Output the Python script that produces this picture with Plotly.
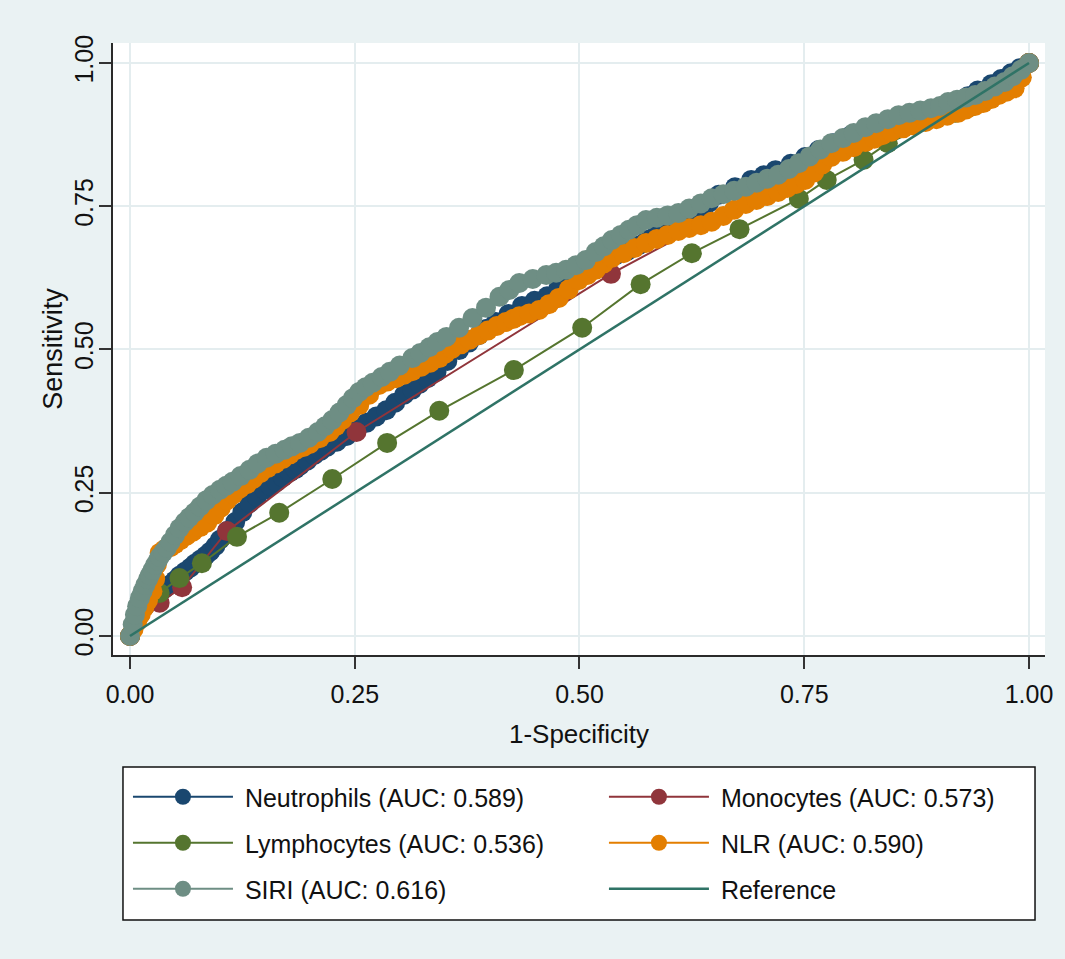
import plotly.graph_objects as go

# ---------------- data ----------------
neut_fpr = [0, 0.005, 0.011, 0.016, 0.022, 0.027, 0.033, 0.038, 0.044, 0.050,
            0.055, 0.061, 0.067, 0.072, 0.078, 0.084, 0.089, 0.095, 0.100, 0.108,
            0.117, 0.125, 0.133, 0.141, 0.150, 0.156, 0.163, 0.170, 0.178, 0.184,
            0.189, 0.197, 0.205, 0.212, 0.219, 0.230, 0.241, 0.252, 0.263, 0.274,
            0.285, 0.295, 0.305, 0.314, 0.322, 0.331, 0.341, 0.353, 0.366, 0.377,
            0.388, 0.397, 0.407, 0.421, 0.436, 0.450, 0.464, 0.476, 0.488, 0.500,
            0.511, 0.526, 0.541, 0.554, 0.566, 0.575, 0.585, 0.597, 0.610, 0.621,
            0.633, 0.644, 0.655, 0.673, 0.691, 0.705, 0.718, 0.735, 0.751, 0.766,
            0.782, 0.801, 0.821, 0.838, 0.855, 0.871, 0.888, 0.904, 0.921, 0.932,
            0.943, 0.958, 0.969, 0.980, 0.990, 1.0]
neut_sens = [0, 0.020, 0.037, 0.051, 0.063, 0.069, 0.075, 0.082, 0.089, 0.097,
             0.105, 0.112, 0.119, 0.126, 0.133, 0.140, 0.147, 0.157, 0.168, 0.183,
             0.199, 0.216, 0.232, 0.243, 0.255, 0.262, 0.269, 0.277, 0.286, 0.291,
             0.297, 0.306, 0.316, 0.323, 0.330, 0.339, 0.349, 0.360, 0.372, 0.383,
             0.394, 0.407, 0.421, 0.430, 0.440, 0.450, 0.461, 0.480, 0.499, 0.512,
             0.525, 0.536, 0.548, 0.562, 0.576, 0.585, 0.593, 0.605, 0.618, 0.630,
             0.642, 0.653, 0.665, 0.673, 0.682, 0.691, 0.700, 0.708, 0.717, 0.730,
             0.743, 0.756, 0.770, 0.783, 0.796, 0.804, 0.813, 0.824, 0.836, 0.848,
             0.860, 0.873, 0.884, 0.895, 0.903, 0.905, 0.913, 0.922, 0.934, 0.942,
             0.952, 0.963, 0.972, 0.982, 0.991, 1.0]

mono_fpr = [0, 0.033, 0.058, 0.108, 0.252, 0.535, 0.705, 0.855, 1.0]
mono_sens = [0, 0.058, 0.085, 0.183, 0.356, 0.632, 0.775, 0.897, 1.0]

lymph_fpr = [0, 0.033, 0.055, 0.080, 0.119, 0.166, 0.225, 0.286, 0.344, 0.427,
             0.503, 0.568, 0.625, 0.678, 0.744, 0.775, 0.816, 0.843, 0.918, 0.934,
             0.966, 1.0]
lymph_sens = [0, 0.075, 0.101, 0.127, 0.173, 0.215, 0.274, 0.337, 0.393, 0.464,
              0.538, 0.614, 0.668, 0.710, 0.763, 0.796, 0.831, 0.860, 0.913, 0.923,
              0.948, 1.0]

nlr_fpr = [0, 0.004, 0.008, 0.012, 0.016, 0.020, 0.025, 0.028, 0.030, 0.033,
           0.038, 0.045, 0.050, 0.056, 0.063, 0.070, 0.078, 0.086, 0.094, 0.101,
           0.108, 0.115, 0.122, 0.130, 0.137, 0.145, 0.153, 0.162, 0.170, 0.178,
           0.185, 0.193, 0.200, 0.211, 0.222, 0.229, 0.236, 0.245, 0.255, 0.266,
           0.277, 0.286, 0.296, 0.305, 0.314, 0.324, 0.334, 0.344, 0.351, 0.358,
           0.368, 0.378, 0.388, 0.398, 0.408, 0.418, 0.426, 0.433, 0.444, 0.455,
           0.466, 0.477, 0.488, 0.499, 0.509, 0.518, 0.527, 0.536, 0.549, 0.561,
           0.574, 0.586, 0.598, 0.610, 0.622, 0.635, 0.647, 0.660, 0.672, 0.685,
           0.697, 0.709, 0.721, 0.731, 0.741, 0.751, 0.761, 0.770, 0.780, 0.793,
           0.805, 0.818, 0.828, 0.837, 0.847, 0.860, 0.872, 0.885, 0.897, 0.909,
           0.921, 0.930, 0.940, 0.949, 0.958, 0.966, 0.975, 0.984, 0.992, 1.0]
nlr_sens = [0, 0.012, 0.025, 0.038, 0.050, 0.062, 0.078, 0.100, 0.125, 0.145,
            0.151, 0.155, 0.160, 0.167, 0.175, 0.182, 0.190, 0.198, 0.211, 0.224,
            0.237, 0.247, 0.257, 0.265, 0.274, 0.284, 0.293, 0.301, 0.309, 0.317,
            0.325, 0.330, 0.335, 0.345, 0.356, 0.366, 0.377, 0.390, 0.403, 0.421,
            0.438, 0.444, 0.450, 0.456, 0.462, 0.470, 0.477, 0.485, 0.493, 0.501,
            0.509, 0.517, 0.525, 0.533, 0.541, 0.548, 0.553, 0.558, 0.563, 0.569,
            0.579, 0.590, 0.605, 0.621, 0.630, 0.639, 0.650, 0.660, 0.668, 0.677,
            0.686, 0.693, 0.700, 0.707, 0.712, 0.717, 0.723, 0.733, 0.744, 0.754,
            0.761, 0.768, 0.775, 0.782, 0.789, 0.796, 0.809, 0.823, 0.836, 0.845,
            0.853, 0.862, 0.868, 0.874, 0.880, 0.886, 0.891, 0.897, 0.902, 0.908,
            0.913, 0.919, 0.925, 0.930, 0.937, 0.944, 0.950, 0.956, 0.975, 1.0]

siri_fpr = [0, 0.003, 0.0055, 0.008, 0.011, 0.014, 0.017, 0.020, 0.022, 0.025,
            0.028, 0.031, 0.033, 0.037, 0.041, 0.045, 0.050, 0.055, 0.061, 0.066,
            0.072, 0.078, 0.085, 0.092, 0.100, 0.107, 0.114, 0.123, 0.133, 0.142,
            0.152, 0.162, 0.172, 0.180, 0.189, 0.199, 0.209, 0.217, 0.225, 0.233,
            0.241, 0.248, 0.255, 0.262, 0.270, 0.280, 0.289, 0.300, 0.314, 0.323,
            0.333, 0.342, 0.352, 0.366, 0.381, 0.396, 0.411, 0.422, 0.433, 0.448,
            0.463, 0.474, 0.485, 0.496, 0.507, 0.518, 0.527, 0.536, 0.546, 0.555,
            0.564, 0.574, 0.586, 0.598, 0.610, 0.622, 0.635, 0.647, 0.660, 0.672,
            0.685, 0.697, 0.709, 0.721, 0.733, 0.744, 0.756, 0.768, 0.780, 0.793,
            0.805, 0.818, 0.830, 0.843, 0.855, 0.867, 0.879, 0.891, 0.901, 0.910,
            0.920, 0.930, 0.940, 0.951, 0.962, 0.973, 0.982, 0.991, 1.0]
siri_sens = [0, 0.020, 0.037, 0.052, 0.066, 0.078, 0.089, 0.099, 0.106, 0.115,
             0.124, 0.132, 0.138, 0.146, 0.154, 0.164, 0.176, 0.188, 0.199, 0.207,
             0.216, 0.226, 0.237, 0.246, 0.255, 0.262, 0.269, 0.279, 0.290, 0.301,
             0.311, 0.318, 0.325, 0.331, 0.337, 0.346, 0.356, 0.366, 0.377, 0.390,
             0.403, 0.415, 0.426, 0.434, 0.442, 0.452, 0.461, 0.472, 0.485, 0.494,
             0.504, 0.513, 0.522, 0.538, 0.555, 0.573, 0.592, 0.604, 0.616, 0.623,
             0.630, 0.634, 0.639, 0.647, 0.656, 0.670, 0.680, 0.691, 0.700, 0.709,
             0.717, 0.726, 0.730, 0.734, 0.738, 0.746, 0.755, 0.764, 0.771, 0.777,
             0.784, 0.791, 0.798, 0.805, 0.815, 0.825, 0.837, 0.849, 0.860, 0.869,
             0.878, 0.888, 0.895, 0.902, 0.909, 0.913, 0.917, 0.921, 0.925, 0.932,
             0.936, 0.940, 0.944, 0.951, 0.959, 0.967, 0.977, 0.988, 1.0]

ref_fpr = [0, 1]
ref_sens = [0, 1]

tick_vals = [0, 0.25, 0.5, 0.75, 1.0]
tick_text = ["0.00", "0.25", "0.50", "0.75", "1.00"]

labels = ["Neutrophils (AUC: 0.589)", "Monocytes (AUC: 0.573)",
          "Lymphocytes (AUC: 0.536)", "NLR (AUC: 0.590)",
          "SIRI (AUC: 0.616)", "Reference"]

# ---------------- styling ----------------
FONT = "Liberation Sans, Arial, sans-serif"
BG = "#EAF2F3"
GRID = "#E4EDEF"
TXT = "#111111"
colors = ["#1A476F", "#90353B", "#55752F", "#E37E00", "#6E8E84", "#2F7366"]
legend_of = ["legend", "legend2", "legend", "legend2", "legend", "legend2"]
NB = "\u00a0"

fig = go.Figure()
data = [(neut_fpr, neut_sens), (mono_fpr, mono_sens), (lymph_fpr, lymph_sens),
        (nlr_fpr, nlr_sens), (siri_fpr, siri_sens)]
for i, (xs, ys) in enumerate(data):
    fig.add_trace(go.Scatter(
        x=xs, y=ys, mode="lines+markers", name=NB + labels[i],
        line=dict(color=colors[i], width=2),
        marker=dict(color=colors[i], size=20, line=dict(width=0)),
        legend=legend_of[i], legendgroup="g%d" % i))
fig.add_trace(go.Scatter(
    x=ref_fpr, y=ref_sens, mode="lines", name=NB + labels[5],
    line=dict(color=colors[5], width=2.5), legend=legend_of[5],
    legendgroup="g5"))

W, H = 1065, 959
L, R, T, B = 113, 18, 43, 304
pw, ph = W - L - R, H - T - B

def px_x(p):
    return (p - L) / pw

def px_y(p):
    return (H - B - p) / ph

axis_common = dict(
    tickvals=tick_vals, ticktext=tick_text, ticks="outside", ticklen=12,
    tickwidth=1.5, tickcolor="#333333", showline=True, linecolor="#2a2a2a",
    linewidth=1.5, showgrid=True, gridcolor=GRID, gridwidth=2,
    zeroline=False, tickfont=dict(family=FONT, size=25, color=TXT),
)

legend_common = dict(xanchor="left", yanchor="top", orientation="v",
                     bgcolor="rgba(0,0,0,0)", borderwidth=0, itemwidth=100,
                     tracegroupgap=10.5,
                     font=dict(family=FONT, size=25, color=TXT))

fig.update_layout(
    width=W, height=H,
    paper_bgcolor=BG, plot_bgcolor="white",
    margin=dict(l=L, r=R, t=T, b=B),
    font=dict(family=FONT, size=25, color=TXT),
    xaxis=dict(range=[-0.0189, 1.0178], ticklabelstandoff=4,
               title=dict(text="1-Specificity", standoff=18,
                          font=dict(family=FONT, size=26, color=TXT)),
               **axis_common),
    yaxis=dict(range=[-0.0332, 1.0349], tickangle=-90, ticklabelstandoff=-4,
               title=dict(text="Sensitivity", standoff=0,
                          font=dict(family=FONT, size=27, color=TXT)),
               **axis_common),
    legend=dict(x=px_x(128), y=px_y(774), **legend_common),
    legend2=dict(x=px_x(605), y=px_y(774), **legend_common),
    shapes=[dict(type="rect", xref="paper", yref="paper",
                 x0=px_x(123), x1=px_x(1037), y0=px_y(920), y1=px_y(767),
                 line=dict(color="#111111", width=1.5), fillcolor="white",
                 layer="below")],
)

fig.write_html(
    "out.html",
    config={"displayModeBar": False},
    post_script="document.body.style.margin='0';"
                "document.body.style.background='#EAF2F3';",
)
